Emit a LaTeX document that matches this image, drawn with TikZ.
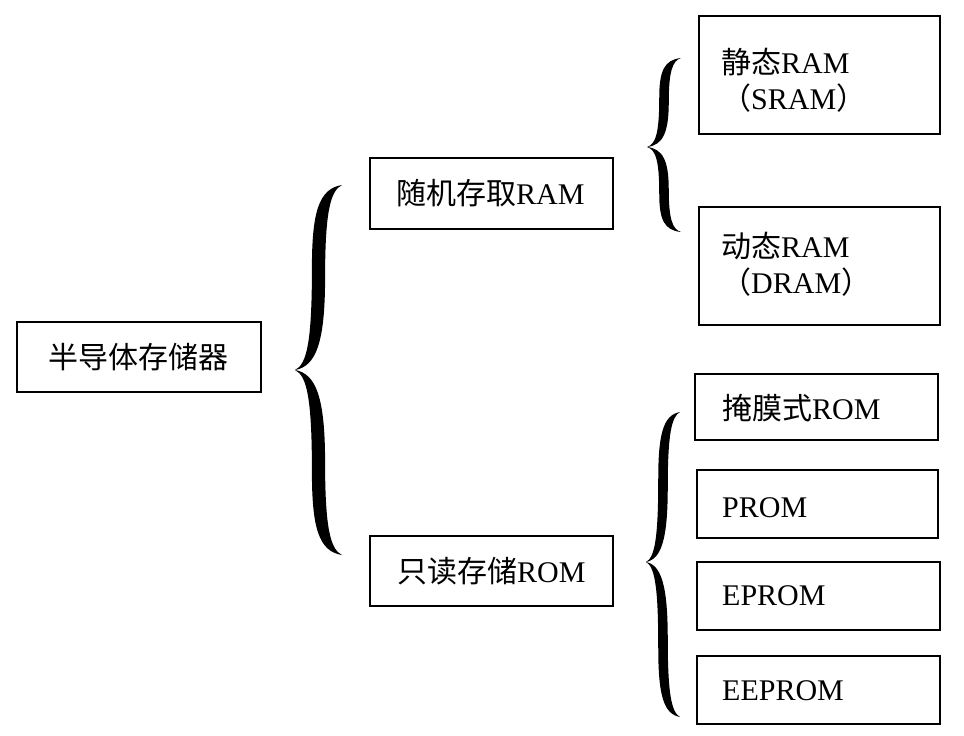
\documentclass[tikz,border=0pt]{standalone}
\usepackage{fontspec}
\setmainfont{Liberation Serif}
\newfontfamily\cjk{Noto Sans CJK SC}
\newcommand\drawcurly[5]{%
  % #1 xtip, #2 ytip, #3 width, #4 up height, #5 down height
  \begin{scope}[shift={(#1,#2)},xscale=#3,yscale=-#4]
    \fill[black] (1,1) .. controls (0.5,0.98) and (0.36,0.85) .. (0.36,0.55)
      .. controls (0.36,0.15) and (0.25,0.03) .. (0,0)
      .. controls (0.45,0.02) and (0.64,0.15) .. (0.64,0.5)
      .. controls (0.64,0.85) and (0.75,0.97) .. (1,1) -- cycle;
  \end{scope}
  \begin{scope}[shift={(#1,#2)},xscale=#3,yscale=#5]
    \fill[black] (1,1) .. controls (0.5,0.98) and (0.36,0.85) .. (0.36,0.55)
      .. controls (0.36,0.15) and (0.25,0.03) .. (0,0)
      .. controls (0.45,0.02) and (0.64,0.15) .. (0.64,0.5)
      .. controls (0.64,0.85) and (0.75,0.97) .. (1,1) -- cycle;
  \end{scope}}
\begin{document}
\begin{tikzpicture}[x=1pt,y=-1pt,
  boxed/.style={draw=black,line width=1.8pt,fill=none},
  lbl/.style={anchor=west,inner sep=0pt,font=\fontsize{30}{36}\selectfont,align=left}]
\useasboundingbox[fill=white] (0,0) rectangle (964,736);
% boxes
\draw[boxed] (17,322) rectangle (261,392) coordinate (b0);
\draw[boxed] (370,158) rectangle (613,229) coordinate (b1);
\draw[boxed] (370,536) rectangle (613,606) coordinate (b2);
\draw[boxed] (699,16) rectangle (940,134) coordinate (b3);
\draw[boxed] (699,207) rectangle (940,325) coordinate (b4);
\draw[boxed] (695,374) rectangle (938,440) coordinate (b5);
\draw[boxed] (697,470) rectangle (938,538) coordinate (b6);
\draw[boxed] (697,562) rectangle (940,630) coordinate (b7);
\draw[boxed] (697,656) rectangle (940,724) coordinate (b8);
% labels
\node[lbl] (t0) at (48,357) {{\cjk 半导体存储器}};
\node[lbl] (t1) at (396,193) {{\cjk 随机存取}RAM};
\node[lbl] (t2) at (397,571) {{\cjk 只读存储}ROM};
\node[lbl] (t3) at (721,80) {{\cjk 静态}RAM\\{\cjk （}SRAM{\cjk ）}};
\node[lbl] (t4) at (721,264) {{\cjk 动态}RAM\\{\cjk （}DRAM{\cjk ）}};
\node[lbl] (t5) at (722,408) {{\cjk 掩膜式}ROM};
\node[lbl] (t6) at (722,508) {PROM};
\node[lbl] (t7) at (722,596) {EPROM};
\node[lbl] (t8) at (722,691) {EEPROM};
% braces
\drawcurly{295}{370}{47}{185}{185}
\drawcurly{647}{147}{34}{89}{85}
\drawcurly{646}{562}{34}{150}{155}
\end{tikzpicture}
\end{document}
